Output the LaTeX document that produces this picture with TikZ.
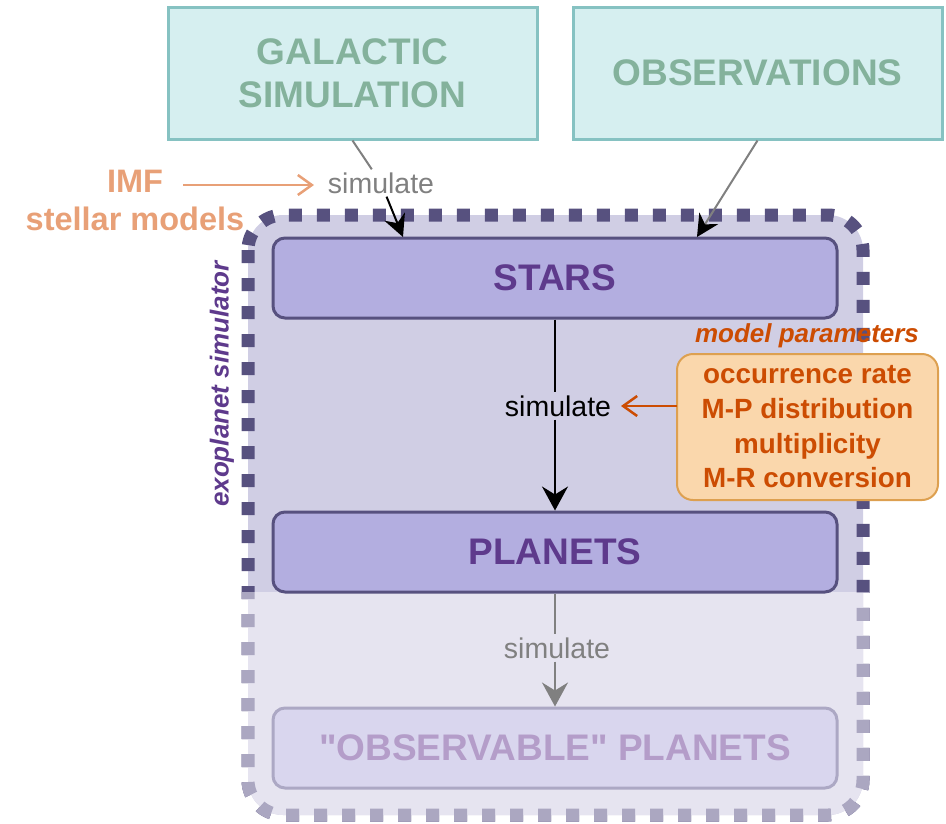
\documentclass[tikz,border=0pt]{standalone}
\usepackage{fontspec}
\setmainfont{Liberation Sans}[Ligatures=TeXOff]
\usetikzlibrary{arrows.meta}
\definecolor{tealfill}{HTML}{D6EFF0}
\definecolor{tealdraw}{HTML}{86C2C2}
\definecolor{tealtext}{HTML}{84B29C}
\definecolor{contfill}{HTML}{D0CEE4}
\definecolor{contdash}{HTML}{57517F}
\definecolor{lightfill}{HTML}{E6E4F0}
\definecolor{lightdash}{HTML}{ABA7C1}
\definecolor{boxfill}{HTML}{B3AEE0}
\definecolor{boxtext}{HTML}{5E3A8C}
\definecolor{obsfill}{HTML}{D9D6EE}
\definecolor{obsdraw}{HTML}{ACA8C4}
\definecolor{obstext}{HTML}{B49DC9}
\definecolor{imfcol}{HTML}{E8A077}
\definecolor{parfill}{HTML}{FAD7AC}
\definecolor{pardraw}{HTML}{DDA050}
\definecolor{partext}{HTML}{CC4C02}
\definecolor{simgray}{HTML}{808080}
\begin{document}
\begin{tikzpicture}[x=1pt,y=-1pt,
  inputbox/.style={draw=tealdraw, fill=tealfill, line width=3pt,
    minimum width=369pt, minimum height=132pt, inner sep=0pt,
    text=tealtext, align=center, font=\fontsize{37}{43}\selectfont\bfseries},
  stagebox/.style={draw=contdash, fill=boxfill, line width=3pt, rounded corners=12pt,
    minimum width=564pt, minimum height=80pt, inner sep=0pt,
    text=boxtext, font=\fontsize{37}{43}\selectfont\bfseries},
  obsbox/.style={draw=obsdraw, fill=obsfill, line width=3pt, rounded corners=12pt,
    minimum width=564pt, minimum height=80pt, inner sep=0pt,
    text=obstext, font=\fontsize{37}{43}\selectfont\bfseries},
  simlabel/.style={font=\fontsize{28.5}{30}\selectfont, inner sep=3pt},
  container/.style={line width=13pt, dash pattern=on 13pt off 15pt, rounded corners=35pt},
  bigarrow/.style={line width=2pt, -{Stealth[length=24pt,width=26pt,inset=8pt]}},
  toparrow/.style={line width=2pt, -{Stealth[length=22pt,width=22pt,inset=7pt,color=black]}},
  barb/.style={line width=2.5pt, -{Straight Barb[length=14pt,width=20pt]}},
]
\useasboundingbox (0,0) rectangle (946,823);

% container (dark upper part)
\path[container, draw=contdash, fill=contfill] (248,215) rectangle (863,815);
% lighter lower part
\begin{scope}
  \clip (0,592) rectangle (946,823);
  \path[container, draw=lightdash, fill=lightfill] (248,215) rectangle (863,815);
\end{scope}

% input boxes
\node[inputbox] (gal) at (352.5,73) {GALACTIC\\SIMULATION};
\node[inputbox] (obs) at (757.5,73) {OBSERVATIONS};

% stage boxes
\node[stagebox] (stars) at (555,278) {STARS};
\node[stagebox] (planets) at (555,552) {PLANETS};
\node[obsbox] (observable) at (555,748) {"OBSERVABLE" PLANETS};

% side labels
\node[text=imfcol, align=center, font=\fontsize{32.5}{38}\selectfont\bfseries] (imf) at (135,200)
  {IMF\\stellar models};
\node[text=boxtext, rotate=90, font=\fontsize{26}{30}\selectfont\bfseries\itshape] (exo) at (222,384)
  {exoplanet simulator};
\node[text=partext, font=\fontsize{26}{30}\selectfont\bfseries\itshape] (mplabel) at (807,336)
  {model parameters};
\node[draw=pardraw, fill=parfill, line width=2pt, rounded corners=16pt,
  minimum width=261pt, minimum height=146pt, inner sep=0pt,
  text=partext, align=center, font=\fontsize{27.8}{34.7}\selectfont\bfseries] (params) at (807.5,427)
  {occurrence rate\\M-P distribution\\multiplicity\\M-R conversion};

% simulate labels
\node[simlabel, text=simgray] (sim1) at (381,183) {simulate};
\node[simlabel, text=black] (sim2) at (558,406) {simulate};
\node[simlabel, text=simgray] (sim3) at (557,648) {simulate};

% coordinates for free ends
\coordinate (s1end) at (403,237);
\coordinate (s2end) at (697,237);
\coordinate (imfA) at (183,185);
\coordinate (imfB) at (314,185);
\coordinate (parA) at (677,406);
\coordinate (parB) at (621,406);

% connectors
\draw[simgray, line width=2pt] (gal.south) -- (sim1);
\draw[toparrow, black] (sim1) -- (s1end);
\draw[toparrow, simgray] (obs.south) -- (s2end);
\draw[black, line width=2pt] (stars.south) -- (sim2.north -| stars.south);
\draw[bigarrow, black] (sim2.south -| stars.south) -- (planets.north);
\draw[simgray, line width=2pt] (planets.south) -- (sim3.north -| planets.south);
\draw[bigarrow, simgray] (sim3.south -| planets.south) -- (observable.north);
\draw[barb, imfcol] (imfA) -- (imfB);
\draw[barb, partext] (parA) -- (parB);
\end{tikzpicture}
\end{document}
